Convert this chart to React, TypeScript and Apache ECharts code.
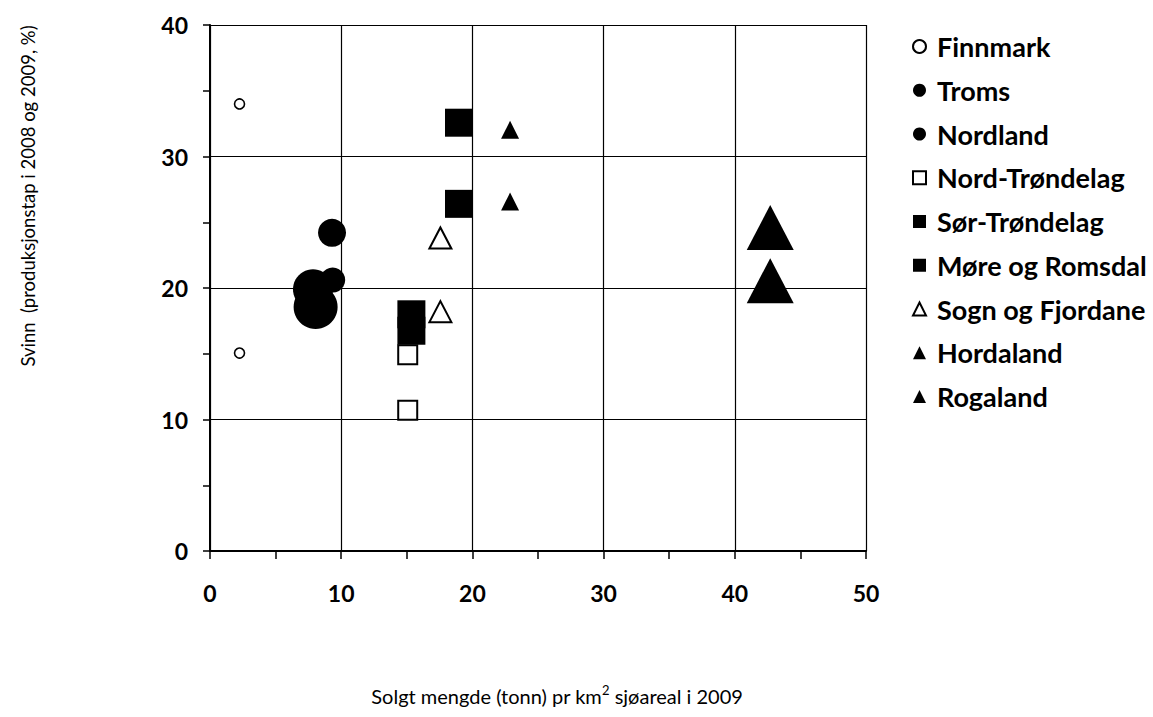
import React, { useEffect, useRef } from "react";
import * as echarts from "echarts";

// Data: [x = sold tonnes per km² sea area 2009, y = loss %]
const finnmark = [[2.25, 34.0], [2.25, 15.05]];
const troms = [[9.3, 24.2], [9.35, 20.6]];
const nordland = [[7.85, 19.9], [8.05, 18.55]];
const nordTrondelag = [[15.07, 14.93], [15.07, 10.7]];
const sorTrondelag = [[18.98, 32.57], [18.98, 26.4]];
const moreRomsdal = [[15.35, 18.0], [15.35, 16.75]];
const sognFjordane = [[17.56, 23.8], [17.56, 18.2]];
const hordaland = [[22.87, 32.03], [22.87, 26.57]];
const rogaland = [[42.7, 24.6], [42.7, 20.56]];

const seriesNames = [
  "Finnmark",
  "Troms",
  "Nordland",
  "Nord-Trøndelag",
  "Sør-Trøndelag",
  "Møre og Romsdal",
  "Sogn og Fjordane",
  "Hordaland",
  "Rogaland",
];

const xTicks = [0, 10, 20, 30, 40, 50];
const yTicks = [0, 10, 20, 30, 40];

const yTitle = "Svinn  (produksjonstap i 2008 og 2009, %)";
const xTitleA = "Solgt mengde (tonn) pr km";
const xTitleSup = "2";
const xTitleB = " sjøareal i 2009";

export default function App() {
  const ref = useRef<HTMLDivElement>(null);
  useEffect(() => {
    document.body.style.margin = "0";
    if (!ref.current) return;
    const chart = echarts.init(ref.current, null, { renderer: "svg" });

    const black = "#000";
    const open = { color: "#fff", borderColor: black, borderWidth: 1.6, opacity: 1 };
    const filled = { color: black, borderColor: black, borderWidth: 0, opacity: 1 };

    const mk = (
      name: string,
      data: number[][],
      symbol: string,
      sizes: (number | number[])[],
      style: any,
      z: number
    ) => ({
      name,
      type: "scatter",
      symbol,
      data: data.map((d, i) => ({ value: d, symbolSize: sizes[i] })),
      itemStyle: style,
      z,
      emphasis: { disabled: true },
    });

    const font = "Lato";
    chart.setOption({
      animation: false,
      backgroundColor: "#fff",
      grid: { left: 210, top: 25, width: 656, height: 526, containLabel: false },
      xAxis: {
        type: "value",
        min: xTicks[0],
        max: xTicks[xTicks.length - 1],
        interval: 10,
        axisLine: { show: true, lineStyle: { color: black, width: 2 } },
        axisTick: { show: true, length: 8, lineStyle: { color: black, width: 1.5 } },
        minorTick: { show: true, splitNumber: 2, length: 8, lineStyle: { color: black, width: 1.5 } },
        splitLine: { show: true, lineStyle: { color: black, width: 1.2 } },
        axisLabel: {
          color: black,
          fontFamily: font,
          fontWeight: "bold",
          fontSize: 23,
          margin: 30,
        },
      },
      yAxis: {
        type: "value",
        min: yTicks[0],
        max: yTicks[yTicks.length - 1],
        interval: 10,
        axisLine: { show: true, lineStyle: { color: black, width: 2 } },
        axisTick: { show: true, length: 7, lineStyle: { color: black, width: 1.5 } },
        minorTick: { show: true, splitNumber: 2, length: 7, lineStyle: { color: black, width: 1.5 } },
        splitLine: { show: true, lineStyle: { color: black, width: 1.2 } },
        axisLabel: {
          color: black,
          fontFamily: font,
          fontWeight: "bold",
          fontSize: 23,
          margin: 22,
        },
      },
      legend: {
        orient: "vertical",
        left: 912,
        top: 33,
        padding: 0,
        itemWidth: 13,
        itemHeight: 13,
        itemGap: 16.75,
        selectedMode: false,
        data: seriesNames,
        textStyle: {
          color: black,
          fontFamily: font,
          fontWeight: "bold",
          fontSize: 27,
          lineHeight: 27,
          padding: [0, 0, 0, 6],
        },
      },
      graphic: [
        {
          type: "text",
          x: 28,
          y: 196,
          rotation: Math.PI / 2,
          style: {
            text: yTitle,
            fill: black,
            font: `18.5px ${font}`,
            align: "center",
            verticalAlign: "middle",
          },
        },
        {
          type: "text",
          x: 557,
          y: 696,
          style: {
            text: `{a|${xTitleA}}{s|${xTitleSup}}{a|${xTitleB}}`,
            align: "center",
            verticalAlign: "middle",
            rich: {
              a: { fontFamily: font, fontSize: 20, fill: black, lineHeight: 26 },
              s: { fontFamily: font, fontSize: 13, fill: black, lineHeight: 26, verticalAlign: "top" },
            },
          },
        },
      ],
      series: [
        mk(seriesNames[0], finnmark, "circle", [10, 10], open, 5),
        mk(seriesNames[1], troms, "circle", [28, 25], filled, 4),
        mk(seriesNames[2], nordland, "circle", [40, 44], filled, 3),
        mk(seriesNames[3], nordTrondelag, "rect", [19, 19], { ...open, borderWidth: 2 }, 5),
        mk(seriesNames[4], sorTrondelag, "rect", [28, 28], filled, 3),
        mk(seriesNames[5], moreRomsdal, "rect", [28, 28], filled, 3),
        mk(seriesNames[6], sognFjordane, "triangle", [[22, 21], [22, 21]], { ...open, borderWidth: 2 }, 5),
        mk(seriesNames[7], hordaland, "triangle", [[18, 18], [18, 18]], filled, 3),
        mk(seriesNames[8], rogaland, "triangle", [[47, 45], [47, 45]], filled, 3),
      ],
    });
    return () => chart.dispose();
  }, []);
  return <div ref={ref} style={{ width: 1153, height: 717 }} />;
}
